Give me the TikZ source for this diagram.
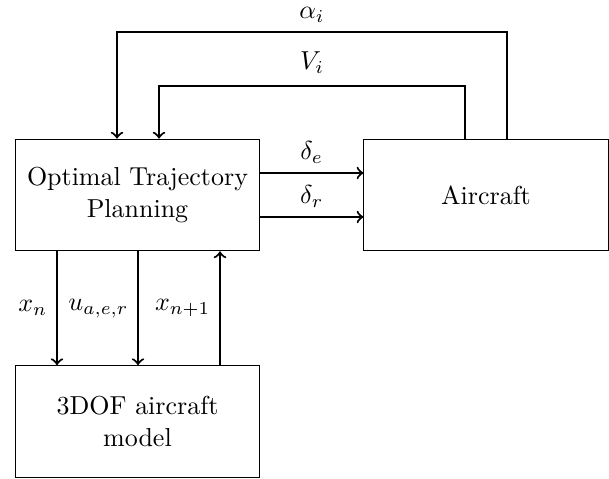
\documentclass[tikz,border=0pt]{standalone}
\begin{document}
\begin{tikzpicture}[x=0.385pt,y=-0.385pt,
  box/.style={draw, line width=0.4pt, minimum width=94pt, minimum height=43pt, align=center, inner sep=0pt},
  arr/.style={->, thick}]
\useasboundingbox (0,0) rectangle (609,479);
\node[box] (otp) at (137.5,195) {Optimal Trajectory\\Planning};
\node[box] (ac) at (486,195) {Aircraft};
\node[box] (dof) at (137.5,421.5) {3DOF aircraft\\model};
\coordinate (aR) at (507,32); \coordinate (aL) at (117,32);
\coordinate (vR) at (465,86); \coordinate (vL) at (159,86);
\coordinate (de) at (0,173); \coordinate (dr) at (0,217);
\coordinate (xn) at (57,0); \coordinate (ua) at (138,0); \coordinate (xp) at (220,0);
\draw[arr] (ac.north -| aR) -- (aR) -- node[above=0pt]{$\alpha_i$} (aL) -- (otp.north -| aL);
\draw[arr] (ac.north -| vR) -- (vR) -- node[above=1pt]{$V_i$} (vL) -- (otp.north -| vL);
\draw[arr] (otp.east |- de) -- node[above]{$\delta_e$} (ac.west |- de);
\draw[arr] (otp.east |- dr) -- node[above]{$\delta_r$} (ac.west |- dr);
\draw[arr] (otp.south -| xn) -- node[left]{$x_n$} (dof.north -| xn);
\draw[arr] (otp.south -| ua) -- node[left]{$u_{a,e,r}$} (dof.north -| ua);
\draw[arr] (dof.north -| xp) -- node[left]{$x_{n+1}$} (otp.south -| xp);
\end{tikzpicture}
\end{document}
